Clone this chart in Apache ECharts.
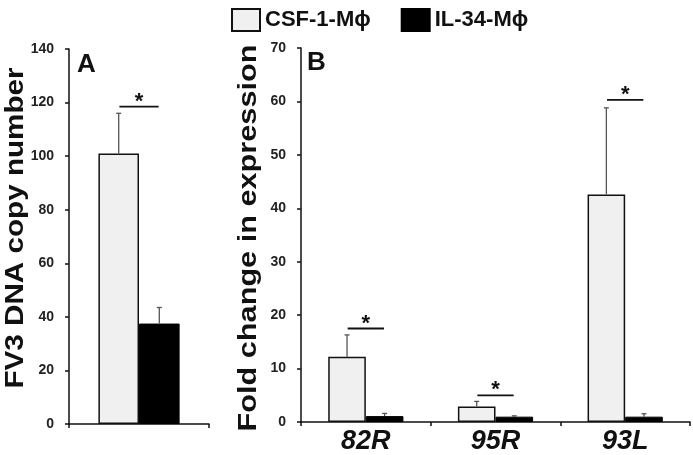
<!DOCTYPE html>
<html>
<head>
<meta charset="utf-8">
<script src="https://cdn.jsdelivr.net/npm/echarts@6/dist/echarts.min.js"></script>
<style>
  html, body { margin: 0; padding: 0; background: #fff; }
  #chart { width: 693px; height: 455px; }
</style>
</head>
<body>
<div id="chart"></div>
<script>
// panel A
const groupA = ["FV3"];
const csfA = [101];
const csfAErr = [15];
const ilA = [37.5];
const ilAErr = [6];
const sigA = [118.5];

// panel B
const genes = ["82R", "95R", "93L"];
const csfB = [12.2, 2.9, 42.6];
const csfBErr = [4.1, 0.95, 16.2];
const ilB = [1.1, 1.0, 1.0];
const ilBErr = [0.5, 0.15, 0.55];
const sigB = [17.5, 5.0, 60.3];

const CSF = "CSF-1-Mϕ";
const IL = "IL-34-Mϕ";
const BAR_PCT = 0.29;
const FONT = "Liberation Sans";

function errItem(side) {
	return function (params, api) {
		const cat = api.value(0);
		const v = api.value(1);
		const e = api.value(2);
		const band = api.size([1, 0])[0];
		const base = api.coord([cat, v]);
		const top = api.coord([cat, v + e]);
		const x = base[0] + side * band * BAR_PCT / 2;
		const style = { stroke: "#555", lineWidth: 1.3 };
		return {
			type: "group",
			children: [
				{ type: "line", shape: { x1: x, y1: base[1], x2: x, y2: top[1] }, style: style },
				{ type: "line", shape: { x1: x - 2.5, y1: top[1], x2: x + 2.5, y2: top[1] }, style: style }
			]
		};
	};
}

function sigItem(params, api) {
	const cat = api.value(0);
	const lvl = api.value(1);
	const band = api.size([1, 0])[0];
	const p = api.coord([cat, lvl]);
	const half = band * 0.14;
	return {
		type: "group",
		children: [
			{ type: "line", shape: { x1: p[0] - half, y1: p[1], x2: p[0] + half, y2: p[1] },
				style: { stroke: "#111", lineWidth: 1.8 } },
			{ type: "text", x: p[0], y: p[1] + 6,
				style: { text: "*", fill: "#111", font: "bold 22px " + FONT, align: "center", verticalAlign: "bottom" } }
		]
	};
}

function yAxis(grid, max) {
	return {
		type: "value",
		gridIndex: grid,
		min: 0,
		max: max,
		interval: max / 7,
		splitLine: { show: false },
		axisLine: { show: true, lineStyle: { color: "#111", width: 1.5 } },
		axisTick: { show: true, length: 4, lineStyle: { color: "#111", width: 1.5 } },
		axisLabel: { fontFamily: FONT, fontWeight: "bold", fontSize: 14, color: "#222", margin: 15 }
	};
}

// rotated axis title, stretched along its length like the source figure
function axisTitle(text, x, y, size, stretch) {
	return {
		type: "text", x: x, y: y, rotation: Math.PI / 2, scaleX: stretch,
		style: { text: text, font: "bold " + size + "px " + FONT, fill: "#111", align: "center", verticalAlign: "middle" }
	};
}

const chart = echarts.init(document.getElementById("chart"));
chart.setOption({
	animation: false,
	legend: {
		left: 226,
		top: 3,
		itemWidth: 28,
		itemHeight: 22,
		itemGap: 30,
		icon: "rect",
		data: [CSF, IL],
		textStyle: { fontFamily: FONT, fontWeight: "bold", fontSize: 22, color: "#111" }
	},
	grid: [
		{ left: 69, top: 49, width: 140, height: 375 },
		{ left: 301, top: 48, width: 389, height: 375 }
	],
	graphic: [
		{ type: "text", left: 77, top: 52, style: { text: "A", font: "bold 26px " + FONT, fill: "#111" } },
		{ type: "text", left: 307, top: 50, style: { text: "B", font: "bold 26px " + FONT, fill: "#111" } },
		axisTitle("FV3 DNA copy number", 16, 228, 26, 1.14),
		axisTitle("Fold change in expression", 249, 238, 26, 1.18)
	],
	xAxis: [
		{
			type: "category", gridIndex: 0, data: groupA,
			axisLine: { lineStyle: { color: "#111", width: 1.5 } },
			axisTick: { show: true, length: 4, lineStyle: { color: "#111", width: 1.5 } },
			axisLabel: { show: false }
		},
		{
			type: "category", gridIndex: 1, data: genes,
			axisLine: { lineStyle: { color: "#111", width: 1.5 } },
			axisTick: { show: true, length: 4, lineStyle: { color: "#111", width: 1.5 } },
			axisLabel: { fontFamily: FONT, fontWeight: "bold", fontStyle: "italic", fontSize: 27, color: "#111", margin: 6 }
		}
	],
	yAxis: [
		yAxis(0, 140),
		yAxis(1, 70)
	],
	series: [
		{
			name: CSF, type: "bar", xAxisIndex: 0, yAxisIndex: 0, data: csfA,
			barWidth: (BAR_PCT * 100) + "%", barGap: "0%",
			itemStyle: { color: "#f0f0f0", borderColor: "#111", borderWidth: 1.5 }
		},
		{
			name: IL, type: "bar", xAxisIndex: 0, yAxisIndex: 0, data: ilA,
			barWidth: (BAR_PCT * 100) + "%", barGap: "0%",
			itemStyle: { color: "#000", borderColor: "#000", borderWidth: 1 }
		},
		{
			name: CSF, type: "bar", xAxisIndex: 1, yAxisIndex: 1, data: csfB,
			barWidth: (BAR_PCT * 100) + "%", barGap: "0%",
			itemStyle: { color: "#f0f0f0", borderColor: "#111", borderWidth: 1.5 }
		},
		{
			name: IL, type: "bar", xAxisIndex: 1, yAxisIndex: 1, data: ilB,
			barWidth: (BAR_PCT * 100) + "%", barGap: "0%",
			itemStyle: { color: "#000", borderColor: "#000", borderWidth: 1 }
		},
		{
			type: "custom", xAxisIndex: 0, yAxisIndex: 0, z: 3, renderItem: errItem(-1),
			data: csfA.map((v, i) => [i, v, csfAErr[i]])
		},
		{
			type: "custom", xAxisIndex: 0, yAxisIndex: 0, z: 3, renderItem: errItem(1),
			data: ilA.map((v, i) => [i, v, ilAErr[i]])
		},
		{
			type: "custom", xAxisIndex: 1, yAxisIndex: 1, z: 3, renderItem: errItem(-1),
			data: csfB.map((v, i) => [i, v, csfBErr[i]])
		},
		{
			type: "custom", xAxisIndex: 1, yAxisIndex: 1, z: 3, renderItem: errItem(1),
			data: ilB.map((v, i) => [i, v, ilBErr[i]])
		},
		{
			type: "custom", xAxisIndex: 0, yAxisIndex: 0, z: 3, renderItem: sigItem,
			data: sigA.map((v, i) => [i, v])
		},
		{
			type: "custom", xAxisIndex: 1, yAxisIndex: 1, z: 3, renderItem: sigItem,
			data: sigB.map((v, i) => [i, v])
		}
	]
});
</script>
</body>
</html>
